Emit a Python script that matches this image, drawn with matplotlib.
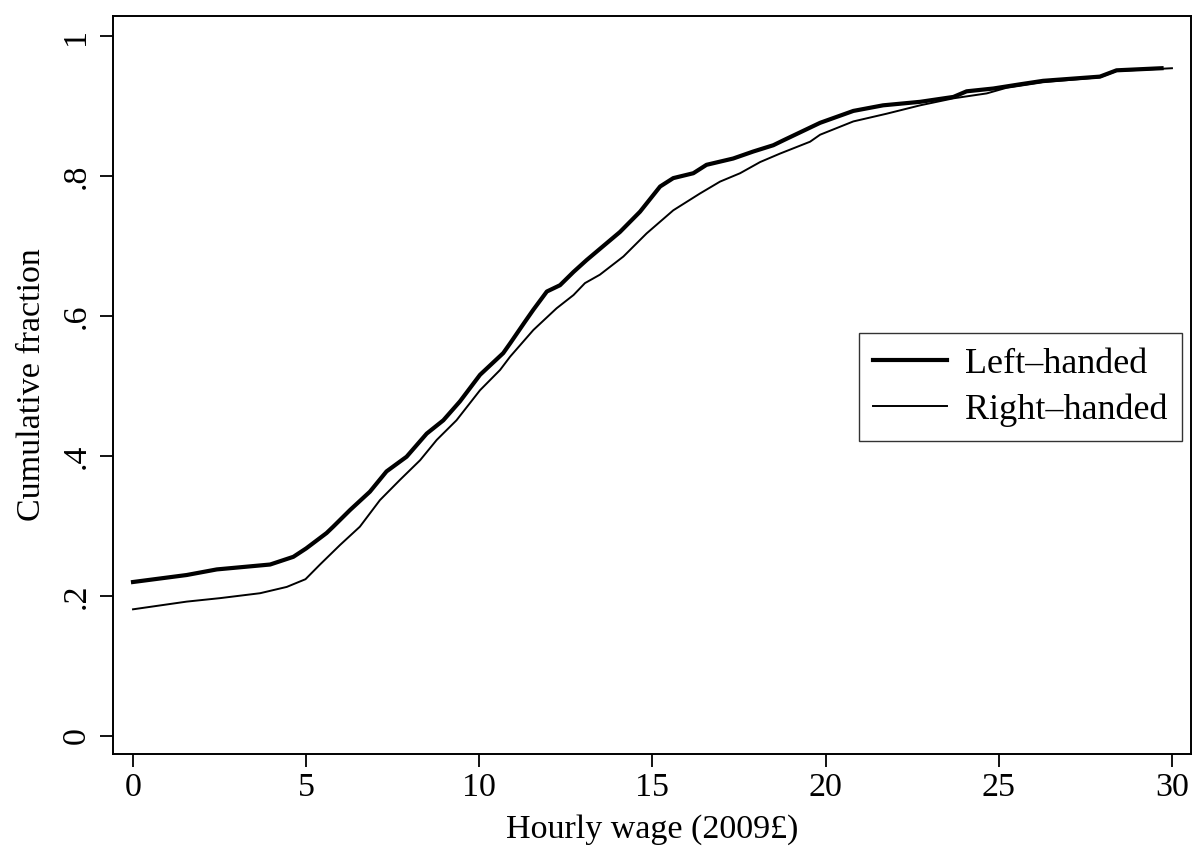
import matplotlib
matplotlib.use("Agg")
import matplotlib.pyplot as plt

# Left-handed (thick) cumulative distribution
left_wage = [0.0, 1.55, 2.42, 3.96, 4.63, 5.0, 5.59, 5.78, 6.27, 6.84, 7.32, 7.9, 8.48, 8.96,
             9.44, 10.02, 10.69, 10.89, 11.32, 11.56, 11.95, 12.33, 12.72, 13.1, 14.06, 14.64,
             15.22, 15.6, 16.18, 16.56, 17.33, 17.91, 18.49, 18.78, 19.84, 20.8, 21.66, 22.73,
             23.69, 24.07, 24.84, 25.61, 26.28, 27.92, 28.4, 29.7]
left_frac = [0.220, 0.230, 0.238, 0.245, 0.256, 0.268, 0.290, 0.299, 0.323, 0.349, 0.378, 0.399,
             0.432, 0.451, 0.478, 0.516, 0.547, 0.561, 0.592, 0.609, 0.635, 0.644, 0.663, 0.680,
             0.720, 0.749, 0.785, 0.797, 0.804, 0.816, 0.825, 0.835, 0.844, 0.851, 0.876, 0.893,
             0.901, 0.906, 0.913, 0.921, 0.925, 0.931, 0.936, 0.942, 0.951, 0.954]

# Right-handed (thin) cumulative distribution
right_wage = [0.0, 1.55, 2.52, 3.67, 4.44, 4.98, 5.4, 5.98, 6.55, 7.13, 7.71, 8.29, 8.77, 9.34,
              10.02, 10.6, 10.89, 11.56, 12.23, 12.72, 13.05, 13.48, 14.16, 14.83, 15.6, 16.37,
              16.95, 17.53, 18.11, 18.68, 19.55, 19.84, 20.8, 21.76, 22.73, 23.69, 24.65, 25.22,
              26.28, 27.92, 28.4, 30.0]
right_frac = [0.181, 0.192, 0.197, 0.204, 0.213, 0.224, 0.245, 0.273, 0.299, 0.337, 0.366, 0.394,
              0.423, 0.451, 0.494, 0.523, 0.542, 0.580, 0.611, 0.630, 0.647, 0.659, 0.685, 0.718,
              0.751, 0.775, 0.792, 0.804, 0.820, 0.832, 0.849, 0.859, 0.878, 0.889, 0.901, 0.911,
              0.918, 0.926, 0.934, 0.941, 0.950, 0.954]

x_ticks = [0, 5, 10, 15, 20, 25, 30]
y_ticks = [0, 0.2, 0.4, 0.6, 0.8, 1.0]
y_tick_labels = ["0", ".2", ".4", ".6", ".8", "1"]

plt.rcParams['font.family'] = ['Liberation Serif', 'DejaVu Serif']
FS = 24.5

fig = plt.figure(figsize=(11.94, 8.57), dpi=100)
ax = fig.add_axes([113/1194, 1 - 754/857, (1191 - 113)/1194, (754 - 16)/857])

ax.plot(left_wage, left_frac, color='black', lw=3.0, label='Left–handed', solid_joinstyle='round')
ax.plot(right_wage, right_frac, color='black', lw=1.4, label='Right–handed')

ax.set_xlim(-0.578, 30.55)
ax.set_ylim(-0.0257, 1.0286)
ax.set_xticks(x_ticks)
ax.set_xticklabels([str(v) for v in x_ticks], fontsize=FS)
ax.set_yticks(y_ticks)
ax.set_yticklabels(y_tick_labels, fontsize=FS, rotation=90, va='center')
ax.tick_params(axis='both', direction='out', length=9.5, width=1.3, color='black')
ax.tick_params(axis='y', pad=6)
ax.tick_params(axis='x', pad=4)
for s in ax.spines.values():
    s.set_linewidth(1.4)
    s.set_color('black')

ax.set_xlabel('Hourly wage (2009£)', fontsize=FS, labelpad=8)
ax.set_ylabel('Cumulative fraction', fontsize=FS, labelpad=10)

leg = ax.legend(loc='upper right', bbox_to_anchor=(0.9917, 0.5705), borderaxespad=0,
                prop={'size': 26}, frameon=True, fancybox=False, shadow=False,
                handlelength=2.05, handletextpad=0.5, labelspacing=0.35, borderpad=0.4)
leg.get_frame().set_edgecolor('black')
leg.get_frame().set_linewidth(1.0)

fig.savefig('out.png', dpi=100)
